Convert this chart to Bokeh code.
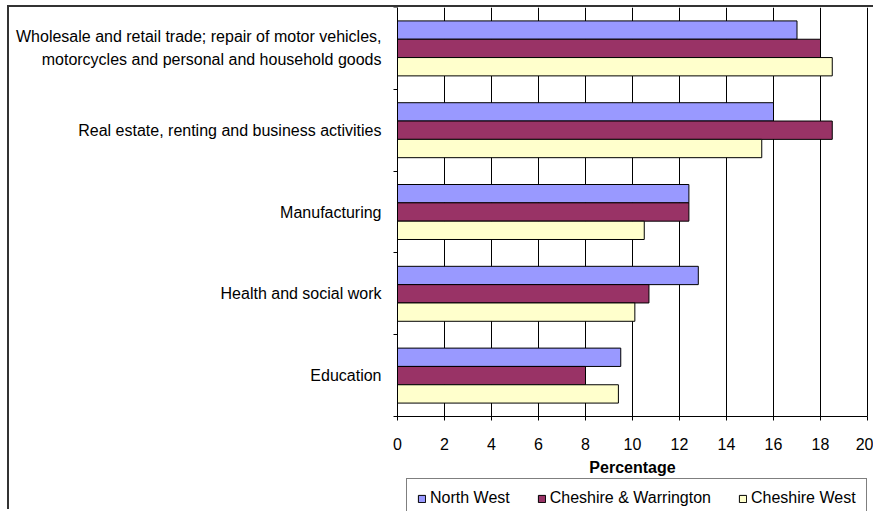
from bokeh.plotting import figure
from bokeh.models import (ColumnDataSource, FixedTicker, Range1d, Legend, LegendItem)
from bokeh.embed import file_html
from bokeh.resources import INLINE

# ---- data ----
categories = [
    "Wholesale and retail trade; repair of motor vehicles,\nmotorcycles and personal and household goods",
    "Real estate, renting and business activities",
    "Manufacturing",
    "Health and social work",
    "Education",
]
north_west = [17.0, 16.0, 12.4, 12.8, 9.5]
cheshire_warrington = [18.0, 18.5, 12.4, 10.7, 8.0]
cheshire_west = [18.5, 15.5, 10.5, 10.1, 9.4]
series_names = ["North West", "Cheshire & Warrington", "Cheshire West"]
series_colors = ["#9999FF", "#993366", "#FFFFCC"]
x_ticks = [0, 2, 4, 6, 8, 10, 12, 14, 16, 18, 20]

FONT = "Liberation Sans"
FS = "16px"

n = len(categories)
x_max = x_ticks[-1]
centers = [n - i - 0.5 for i in range(n)]  # top-to-bottom order
bar_h = 0.224
offsets = [bar_h, 0.0, -bar_h]

# layout in pixels: the frame fills the whole canvas; the bar area sits inside it
W, LEFT_PX, RIGHT_PX = 866, 388, 8
PLOT_PX, BELOW_PX = 409, 95
px_per_x = (W - LEFT_PX - RIGHT_PX) / x_max
p = figure(width=W, height=PLOT_PX + BELOW_PX, output_backend="svg", toolbar_location=None,
           x_range=Range1d(-LEFT_PX / px_per_x, x_max + RIGHT_PX / px_per_x),
           y_range=Range1d(-n * BELOW_PX / PLOT_PX, n),
           min_border_left=0, min_border_right=0, min_border_top=0, min_border_bottom=0,
           styles={"margin-left": "7px", "margin-top": "5px",
                   "border-left": "2px solid #333333", "border-top": "2px solid #333333"})
p.background_fill_color = "white"
p.border_fill_color = "white"
p.outline_line_color = None

renderers = []
for vals, off, col in zip([north_west, cheshire_warrington, cheshire_west], offsets, series_colors):
    src = ColumnDataSource(dict(y=[c + off for c in centers], right=vals))
    r = p.hbar(y="y", left=0, right="right", height=bar_h, source=src,
               fill_color=col, line_color="black", line_width=1)
    renderers.append(r)

# grids (vertical lines only, limited to the category area)
p.ygrid.visible = False
p.xgrid.ticker = FixedTicker(ticks=x_ticks)
p.xgrid.grid_line_color = "black"
p.xgrid.grid_line_width = 1
try:
    p.xgrid.cross_bounds = (0, n)
except Exception:
    p.xgrid.visible = False
    p.segment(x0=x_ticks, y0=[0] * len(x_ticks), x1=x_ticks, y1=[n] * len(x_ticks),
              line_color="black", line_width=1)

# x axis drawn at y = 0 (bottom of the category area)
xa = p.xaxis[0]
xa.fixed_location = 0
xa.bounds = (0, x_max)
xa.ticker = FixedTicker(ticks=x_ticks)
xa.axis_line_color = "black"
xa.major_tick_line_color = "black"
xa.major_tick_out = 4
xa.major_tick_in = 0
xa.minor_tick_line_color = None
xa.major_label_text_font = FONT
xa.major_label_text_font_size = FS
xa.major_label_text_color = "black"
xa.major_label_standoff = 17
xa.axis_label = "Percentage"
xa.axis_label_text_font = FONT
xa.axis_label_text_font_size = FS
xa.axis_label_text_font_style = "bold"
xa.axis_label_text_color = "black"
xa.axis_label_standoff = 6

# y axis drawn at x = 0: labels at centers, tick marks at category boundaries
ya = p.yaxis[0]
ya.fixed_location = 0
ya.bounds = (0, n)
ya.ticker = FixedTicker(ticks=centers, minor_ticks=list(range(n + 1)))
ya.major_label_overrides = {c: lab for c, lab in zip(centers, categories)}
ya.major_tick_out = 0
ya.major_tick_in = 0
ya.minor_tick_out = 4
ya.minor_tick_in = 0
ya.minor_tick_line_color = "black"
ya.axis_line_color = "black"
ya.major_label_text_font = FONT
ya.major_label_text_font_size = FS
ya.major_label_text_color = "black"
ya.major_label_text_line_height = 1.35
ya.major_label_standoff = 12

legend = Legend(items=[LegendItem(label=nm, renderers=[r]) for nm, r in zip(series_names, renderers)],
                orientation="horizontal", location=(LEFT_PX + 9, -7),
                label_text_font=FONT, label_text_font_size=FS, label_text_color="black",
                glyph_width=9, glyph_height=9, label_standoff=4, spacing=27,
                padding=10, label_height=18, margin=0,
                border_line_color="black", border_line_width=1,
                background_fill_color="white", background_fill_alpha=1)
p.add_layout(legend, "center")

open("out.html", "w").write(file_html(p, INLINE))
